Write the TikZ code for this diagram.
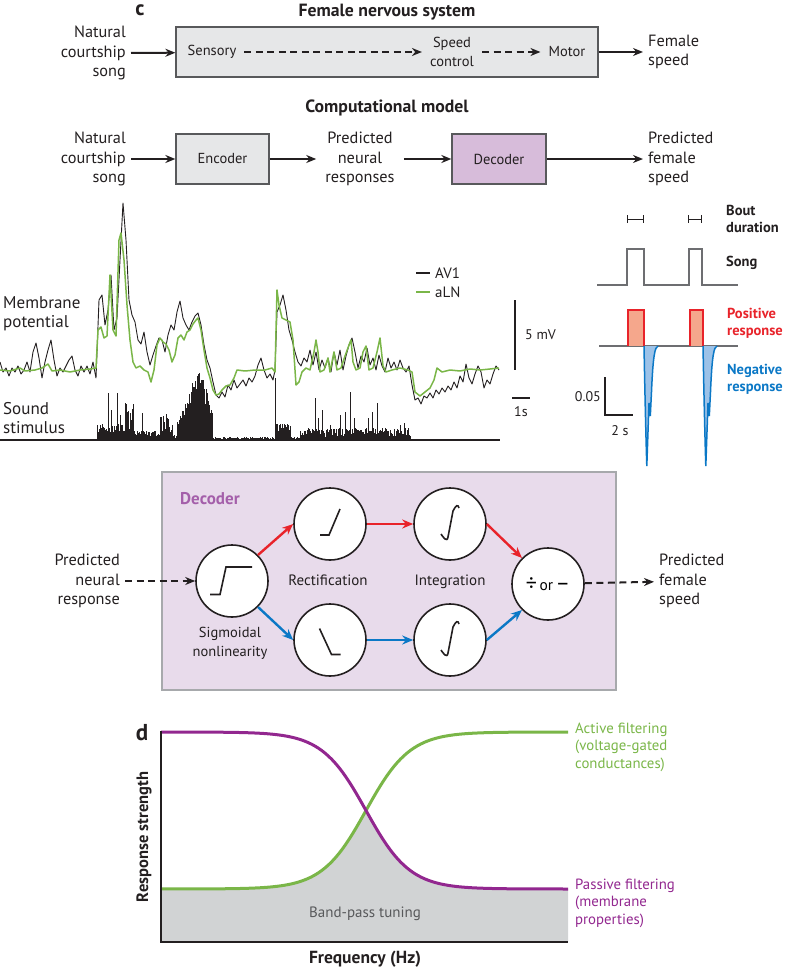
\documentclass[tikz,border=0pt]{standalone}
\usepackage{fontspec}
\setmainfont{PT Sans}
\usetikzlibrary{arrows.meta,positioning}

\definecolor{ink}{HTML}{231F20}
\definecolor{boxgray}{HTML}{E6E7E8}
\definecolor{boxline}{HTML}{58595B}
\definecolor{decfill}{HTML}{D7BCDA}
\definecolor{panelfill}{HTML}{E8DBEB}
\definecolor{panelline}{HTML}{A7A9AC}
\definecolor{decpurple}{HTML}{A45FAA}
\definecolor{avgreen}{HTML}{7AB648}
\definecolor{resred}{HTML}{E8232A}
\definecolor{ressalmon}{HTML}{F5A78C}
\definecolor{resblue}{HTML}{0B78C6}
\definecolor{resblueb}{HTML}{9CC2E8}
\definecolor{songgray}{HTML}{6D6E71}
\definecolor{filtpurple}{HTML}{92278F}
\definecolor{bandgray}{HTML}{D1D3D4}
\definecolor{bandtext}{HTML}{58595B}

\tikzset{
  txt/.style={font=\fontsize{16.3}{19.5}\selectfont, text=ink, inner sep=0pt, inner xsep=5pt},
  inbox/.style={font=\fontsize{14.5}{19}\selectfont, text=ink, inner sep=0pt, inner xsep=8pt, align=center},
  head/.style={font=\fontsize{17.7}{20}\selectfont\bfseries, text=ink, inner sep=0pt},
  side/.style={font=\fontsize{14.5}{17}\selectfont\bfseries, inner sep=0pt, anchor=west, align=left},
  arr/.style={line width=2pt, draw=ink, -{Stealth[length=10pt,width=8pt]}},
  darr/.style={arr, dash pattern=on 7pt off 4.5pt},
  carr/.style={line width=2.4pt, -{Stealth[length=11pt,width=9pt]}},
  blk/.style={draw=boxline, fill=boxgray, line width=1.3pt},
  unit/.style={circle, draw=ink, fill=white, line width=1.6pt, minimum size=72pt, inner sep=0pt},
  glyph/.style={line width=1.6pt, draw=ink}
}

\begin{document}
\begin{tikzpicture}[x=1pt,y=-1pt]
  \useasboundingbox (0,0) rectangle (785,971);

  % Female nervous system
  \node[head, font=\fontsize{21}{21}\selectfont\bfseries] (labc) at (140,10) {c};
  \node[head] (titlefns) at (387,12) {Female nervous system};
  \node[blk, minimum width=422pt, minimum height=50pt] (fns) at (387,52) {};
  \node[txt, anchor=east, align=right] (song1) at (131,53) {Natural\\courtship\\song};
  \node[inbox] (sens) at (212,52) {Sensory};
  \node[inbox] (spd) at (452,52) {Speed\\control};
  \node[inbox] (mot) at (567,52) {Motor};
  \node[txt, anchor=west, align=left] (fspd) at (643,52) {Female\\speed};

  \draw[arr] (song1) -- (fns);
  \draw[darr] (sens) -- (spd);
  \draw[darr] (spd) -- (mot);
  \draw[arr] (fns) -- (fspd);

  % Computational model
  \node[head] (titlecm) at (387,108) {Computational model};
  \node[txt, anchor=east, align=right] (song2) at (131,159) {Natural\\courtship\\song};
  \node[blk, minimum width=93pt, minimum height=50pt, inbox] (enc) at (222.5,159) {Encoder};
  \node[txt, inner xsep=9pt, align=center] (pnr) at (360,159) {Predicted\\neural\\responses};
  \node[blk, fill=decfill, minimum width=94pt, minimum height=50pt, inbox] (dec) at (499,159) {Decoder};
  \node[txt, anchor=west, align=left] (pfs) at (643,159) {Predicted\\female\\speed};

  \draw[arr] (song2) -- (enc);
  \draw[arr] (enc) -- (pnr);
  \draw[arr] (pnr) -- (dec);
  \draw[arr] (dec) -- (pfs);

  % Membrane potential traces
  \node[txt, anchor=west, align=left, inner xsep=0pt, font=\fontsize{17}{19}\selectfont] (memb) at (3,314) {Membrane\\potential};
  \node[txt, anchor=west, align=left, inner xsep=0pt, font=\fontsize{17}{19}\selectfont] (snd) at (3,418) {Sound\\stimulus};

  \draw[ink, line width=0.9pt, line join=round] plot coordinates {
    (0,362) (3,372) (6,368) (9,376) (12,368) (15,372) (18,366) (21,374) (24,370) (27,362)
    (30,372) (33,352) (36,343) (39,358) (42,378) (45,362) (48,350) (51,340) (54,360) (57,376)
    (60,368) (63,372) (66,366) (69,360) (72,356) (75,370) (78,376) (81,366) (84,372) (87,366)
    (90,374) (93,362) (96,378) (99,300) (102,295) (105,325) (108,310) (111,275) (114,330) (117,318)
    (120,260) (123,203) (126,240) (129,300) (132,315) (135,322) (138,340) (141,344) (144,332) (147,352)
    (150,365) (153,355) (156,346) (159,338) (162,340) (165,352) (168,335) (171,325) (174,330) (177,312)
    (180,301) (183,318) (186,325) (189,330) (192,322) (195,316) (198,313) (201,325) (204,345) (207,360)
    (210,368) (213,382) (216,395) (219,398) (222,392) (225,397) (228,385) (231,390) (234,380) (237,388)
    (240,384) (243,380) (246,386) (249,378) (252,382) (255,376) (258,365) (261,358) (264,370) (267,378)
    (270,374) (273,380) (275,370) (277,312) (280,305) (283,295) (286,310) (289,330) (292,340) (295,352)
    (298,362) (301,366) (304,358) (307,362) (310,350) (313,365) (316,352) (319,370) (322,360) (325,368)
    (328,358) (331,372) (334,352) (337,365) (340,350) (343,370) (346,356) (349,345) (352,338) (355,352)
    (358,368) (361,356) (364,362) (367,348) (370,365) (373,358) (376,370) (379,355) (382,366) (385,372)
    (388,358) (391,368) (394,362) (397,370) (400,360) (403,368) (406,372) (409,366) (412,385) (415,400)
    (418,398) (421,404) (424,396) (427,398) (430,393) (433,398) (436,390) (439,394) (442,388) (445,392)
    (448,386) (451,390) (454,382) (457,388) (460,376) (463,382) (466,364) (469,378) (472,384) (475,374)
    (478,366) (481,372) (484,388) (487,380) (490,384) (493,374) (496,366) (499,370)};
  \draw[avgreen, line width=1.5pt, line join=round] plot coordinates {
    (0,370) (10,371) (20,368) (25,371) (35,370) (42,368) (48,364) (52,371) (60,370) (70,372)
    (80,370) (90,369) (96,368) (98,330) (101,327) (104,338) (107,336) (110,275) (113,330) (116,336)
    (119,240) (121,233) (124,260) (127,305) (130,340) (133,362) (136,368) (140,366) (144,370) (148,372)
    (151,382) (154,370) (157,345) (160,338) (163,342) (166,344) (169,350) (172,362) (175,355) (178,338)
    (181,335) (184,340) (187,332) (190,330) (193,324) (196,320) (198,318) (201,330) (204,350) (207,368)
    (210,378) (213,390) (216,395) (219,394) (222,390) (226,386) (230,385) (234,378) (237,370) (245,371)
    (255,370) (265,370) (272,368) (275,372) (277,290) (279,305) (282,318) (286,320) (290,322) (293,340)
    (296,385) (299,382) (302,372) (306,368) (310,370) (314,352) (316,340) (318,352) (320,372) (324,370)
    (328,358) (330,372) (334,352) (337,370) (341,368) (345,356) (349,345) (351,340) (353,362) (356,370)
    (360,368) (363,352) (366,346) (369,370) (373,368) (377,352) (380,338) (383,366) (386,372) (392,370)
    (400,368) (408,370) (412,372) (415,392) (420,396) (425,392) (430,388) (434,380) (437,368) (442,372)
    (450,370) (460,371) (470,369) (480,370) (490,369) (499,368)};

  % Sound stimulus
  \pgfmathsetseed{7}
  \foreach \a/\b/\lo/\hi in {97/125/6/10, 125/134/6/32, 134/160/4/5, 160/173/5/25,
      173/178/2/3, 213/274/1/2, 276/291/9/7, 291/300/1/2, 300/410/3/9}{
    \pgfmathsetmacro\nx{\a+0.7}
    \foreach \x in {\a,\nx,...,\b}{
      \pgfmathsetmacro\h{\lo+\hi*rnd}
      \draw[ink, line width=0.6pt] (\x,440) -- ++(0,-\h);
    }
  }
  \foreach \x in {177,177.6,...,213}{
    \pgfmathsetmacro\h{(25+52*max(0,1-abs(\x-197)/19))*(0.55+0.45*rnd)}
    \draw[ink, line width=0.6pt] (\x,440) -- ++(0,-\h);
  }
  \foreach \x/\h in {108/47, 111/30, 117/47, 120/25, 142/27, 275/62, 315/42, 318/22, 322/30,
      330/15, 340/25, 345/28, 350/48, 354/22, 368/22, 372/28, 377/37, 385/12, 400/15, 404/17, 408/12}{
    \draw[ink, line width=1pt] (\x,440) -- ++(0,-\h);
  }
  \draw[ink, line width=1.5pt] (0,440) -- (500,440);

  % legend and scale bars
  \draw[ink, line width=1.2pt] (416,273) -- (430,273);
  \node[txt, anchor=west, inner xsep=0pt, font=\fontsize{15}{16}\selectfont] (lav) at (435,273) {AV1};
  \draw[avgreen, line width=1.5pt] (416,292) -- (430,292);
  \node[txt, anchor=west, inner xsep=0pt, font=\fontsize{15}{16}\selectfont] (lal) at (435,292) {aLN};
  \draw[ink, line width=1.5pt] (515,300) -- (515,370);
  \node[txt, anchor=west, inner xsep=0pt, font=\fontsize{14}{16}\selectfont] (mv) at (525,335) {5 mV};
  \draw[ink, line width=1.5pt] (512,398) -- (530,398);
  \node[txt, inner xsep=0pt, font=\fontsize{14}{16}\selectfont] (sec) at (521,412) {1s};

  % Bout duration, song and responses
  \foreach \a/\b in {627/643, 688/701}{
    \draw[ink, line width=1pt] (\a,215) -- (\a,223) (\a,219) -- (\b,219) (\b,215) -- (\b,223);
  }
  \node[side, text=ink] (bout) at (726,219) {Bout\\duration};
  \draw[songgray, line width=2pt] (597,285) -- (627,285) -- (627,249) -- (644,249) -- (644,285)
    -- (689,285) -- (689,249) -- (702,249) -- (702,285) -- (738,285);
  \node[side, text=ink] (songl) at (726,263) {Song};

  \draw[songgray, line width=1.6pt] (599,346) -- (738,346);
  \foreach \a/\b in {628/644, 690/703}{
    \filldraw[fill=ressalmon, draw=resred, line width=2pt] (\a,346) -- (\a,310) -- (\b,310) -- (\b,346);
    \filldraw[fill=resblueb, draw=resblue, line width=1.5pt] (\b,346)
      .. controls (\b+1,400) and (\b+2,440) .. (\b+2.8,466) -- (\b+5,403) -- (\b+6.3,416)
      -- (\b+7.5,392) .. controls (\b+9,355) and (\b+11,347) .. (\b+14,346);
  }
  \node[side, text=resred] (pos) at (727,323) {Positive\\response};
  \node[side, text=resblue] (neg) at (727,379) {Negative\\response};
  \draw[ink, line width=1.6pt] (605,377) -- (605,415) -- (633,415);
  \node[txt, anchor=east, inner xsep=0pt, font=\fontsize{14}{16}\selectfont] (sv) at (601,397) {0.05};
  \node[txt, inner xsep=0pt, font=\fontsize{14}{16}\selectfont] (st) at (620,431) {2 s};

  % Decoder
  \node[draw=panelline, fill=panelfill, line width=1.2pt, minimum width=454pt, minimum height=218pt] (panel) at (389,581) {};
  \node[head, text=decpurple, anchor=west, font=\fontsize{17}{20}\selectfont\bfseries] (dlab) at (180,499) {Decoder};

  \node[unit] (sig) at (232,581) {};
  \node[unit] (rtop) at (330,524) {};
  \node[unit] (itop) at (450,524) {};
  \node[unit] (rbot) at (330,640) {};
  \node[unit] (ibot) at (450,640) {};
  \node[unit, font=\fontsize{15.5}{15.5}\selectfont] (out) at (548,584)
    {{\fontsize{22}{22}\selectfont ÷}\,or\,{\fontsize{22}{22}\selectfont –}};

  \draw[glyph] ([shift={(-22,13.5)}]sig.center) -- ++(10,0) -- ++(6,-27.5) -- ++(26,0);
  \draw[glyph] ([shift={(-10,11)}]rtop.center) -- ++(9,0) -- ++(11,-26);
  \draw[glyph] ([shift={(-10.5,-11.5)}]rbot.center) -- ++(12,26) -- ++(9,0);
  \foreach \n in {itop,ibot}{
    \draw[glyph] ([shift={(9,-16)}]\n.center) .. controls ++(-1,-4) and ++(3,-6) .. ++(-6,3)
      -- ++(-5,26) .. controls ++(-1,6) and ++(2,3) .. ++(-7,-3);
  }

  \node[inbox, inner xsep=0pt, font=\fontsize{15}{19}\selectfont] (rect) at (328,580) {Rectification};
  \node[inbox, inner xsep=0pt, font=\fontsize{15}{19}\selectfont] (integ) at (450,582) {Integration};
  \node[inbox, inner xsep=0pt] (sigl) at (230,643) {Sigmoidal\\nonlinearity};

  \node[txt, anchor=east, align=right] (pnr2) at (125,581) {Predicted\\neural\\response};
  \node[txt, anchor=west, align=left] (pfs2) at (654,581) {Predicted\\female\\speed};

  \draw[darr] (pnr2) -- (sig);
  \draw[darr] (out) -- (pfs2);
  \draw[carr, resred] (sig.45) -- (rtop.west);
  \draw[carr, resred] (rtop) -- (itop);
  \draw[carr, resred] (itop.east) -- (out.135);
  \draw[carr, resblue] (sig.-45) -- (rbot.west);
  \draw[carr, resblue] (rbot) -- (ibot);
  \draw[carr, resblue] (ibot.east) -- (out.-135);

  % d: filtering
  \node[head, font=\fontsize{23}{23}\selectfont\bfseries] (labd) at (142,733) {d};
  \fill[bandgray] (161,942) -- plot[domain=161:366, samples=60] (\x,{889-157/(1+exp(-(\x-366)/22))})
    -- plot[domain=366:568, samples=60] (\x,{732+157/(1+exp(-(\x-366)/22))}) -- (568,942) -- cycle;
  \draw[avgreen, line width=3pt] plot[domain=161:568, samples=120] (\x,{889-157/(1+exp(-(\x-366)/22))});
  \draw[filtpurple, line width=3pt] plot[domain=161:568, samples=120] (\x,{732+157/(1+exp(-(\x-366)/22))});
  \draw[ink, line width=1.5pt] (161,731) -- (161,942) -- (568,942);

  \node[head, rotate=90, font=\fontsize{16.5}{20}\selectfont\bfseries] (ylab) at (144,837) {Response strength};
  \node[head, font=\fontsize{17.5}{20}\selectfont\bfseries] (xlab) at (365,959) {Frequency (Hz)};
  \node[txt, text=bandtext, inner xsep=0pt, font=\fontsize{15}{16}\selectfont] (band) at (365,914) {Band-pass tuning};
  \node[txt, text=avgreen, anchor=west, align=left, inner xsep=0pt, font=\fontsize{14.8}{17.5}\selectfont] (act) at (575,747)
    {Active filtering\\(voltage-gated\\conductances)};
  \node[txt, text=filtpurple, anchor=west, align=left, inner xsep=0pt, font=\fontsize{14.8}{17.5}\selectfont] (pas) at (575,903)
    {Passive filtering\\(membrane\\properties)};
\end{tikzpicture}
\end{document}
